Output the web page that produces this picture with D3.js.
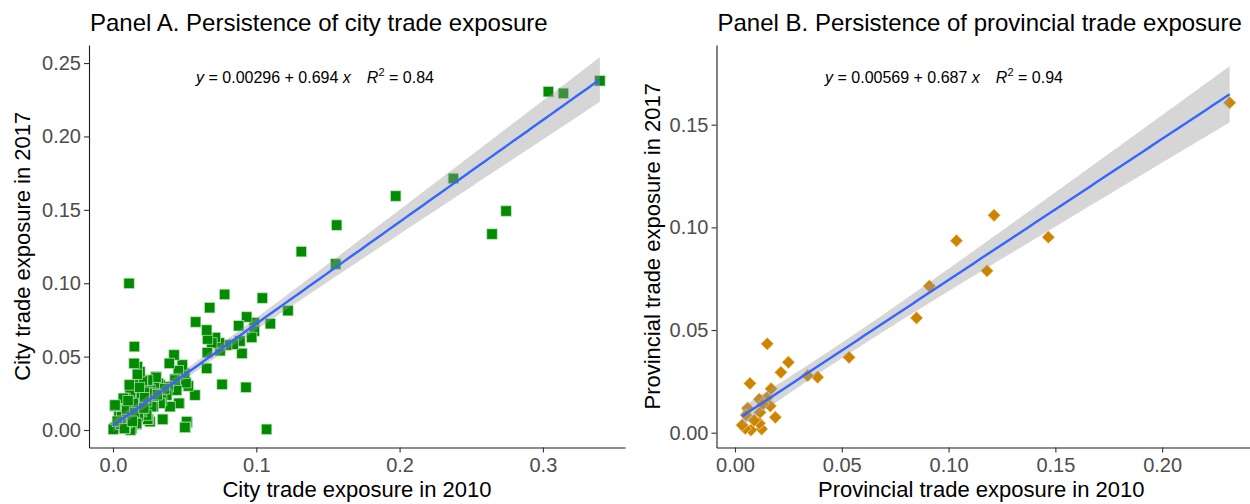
<!DOCTYPE html>
<html>
<head>
<meta charset="utf-8">
<script src="https://cdn.jsdelivr.net/npm/d3@7"></script>
<style>
  body { margin: 0; background: #ffffff; }
  text { font-family: "Liberation Sans", Arial, sans-serif; }
</style>
</head>
<body>
<div id="chart-container"></div>
<script>
const width = 1250;
const height = 504;

// Panel A: city trade exposure (2010 vs 2017)
const cityX2010 = [
  0.3398, 0.3143, 0.3038, 0.2743, 0.2645, 0.2375, 0.1973, 0.1561, 0.1554, 0.1314,
  0.1221, 0.1098, 0.1072, 0.1042, 0.0986, 0.0986, 0.0968, 0.0933, 0.0928, 0.0900,
  0.0886, 0.0877, 0.0840, 0.0793, 0.0779, 0.0761, 0.0747, 0.0743, 0.0715, 0.0690,
  0.0675, 0.0660, 0.0658, 0.0654, 0.0654, 0.0577, 0.0572, 0.0526, 0.0518, 0.0514,
  0.0509, 0.0505, 0.0502, 0.0500, 0.0484, 0.0463, 0.0460, 0.0456, 0.0444, 0.0433,
  0.0433, 0.0426, 0.0398, 0.0393, 0.0386, 0.0375, 0.0347, 0.0347, 0.0340, 0.0328,
  0.0328, 0.0328, 0.0316, 0.0300, 0.0300, 0.0281, 0.0281, 0.0270, 0.0258, 0.0258,
  0.0247, 0.0242, 0.0242, 0.0242, 0.0235, 0.0235, 0.0207, 0.0205, 0.0200, 0.0200,
  0.0188, 0.0188, 0.0177, 0.0177, 0.0170, 0.0170, 0.0170, 0.0165, 0.0165, 0.0149,
  0.0147, 0.0142, 0.0142, 0.0142, 0.0130, 0.0126, 0.0123, 0.0119, 0.0119, 0.0114,
  0.0112, 0.0100, 0.0096, 0.0084, 0.0084, 0.0084, 0.0072, 0.0072, 0.0049, 0.0044,
  0.0042, 0.0026, 0.0014, 0.0014, 0.0014, 0.0002, 0.0060, 0.0095, 0.0150, 0.0220,
  0.0290, 0.0360, 0.0055, 0.0105, 0.0185, 0.0030, 0.0080, 0.0135, 0.0215, 0.0310
];
const cityY2017 = [
  0.2379, 0.2294, 0.2305, 0.1492, 0.1335, 0.1714, 0.1594, 0.1396, 0.1131, 0.1215,
  0.0813, 0.0724, 0.0005, 0.0899, 0.0731, 0.0674, 0.0631, 0.0770, 0.0291, 0.0522,
  0.0606, 0.0710, 0.0584, 0.0579, 0.0924, 0.0311, 0.0540, 0.0593, 0.0630, 0.0593,
  0.0833, 0.0620, 0.0527, 0.0681, 0.0420, 0.0736, 0.0238, 0.0300, 0.0050, 0.0057,
  0.0322, 0.0018, 0.0018, 0.0386, 0.0443, 0.0182, 0.0182, 0.0404, 0.0272, 0.0347,
  0.0340, 0.0511, 0.0159, 0.0454, 0.0295, 0.0238, 0.0073, 0.0073, 0.0204, 0.0182,
  0.0182, 0.0307, 0.0318, 0.0363, 0.0359, 0.0193, 0.0159, 0.0159, 0.0272, 0.0057,
  0.0073, 0.0340, 0.0257, 0.0073, 0.0193, 0.0102, 0.0340, 0.0336, 0.0193, 0.0125,
  0.0136, 0.0397, 0.0091, 0.0238, 0.0431, 0.0379, 0.0232, 0.0039, 0.0045, 0.0568,
  0.0454, 0.0177, 0.0307, 0.0182, 0.0012, 0.0261, 0.0000, 0.0114, 0.0254, 0.0307,
  0.0999, 0.0050, 0.0091, 0.0216, 0.0023, 0.0012, 0.0159, 0.0216, 0.0068, 0.0114,
  0.0114, 0.0023, 0.0163, 0.0170, 0.0016, 0.0005, 0.0090, 0.0140, 0.0120, 0.0220,
  0.0250, 0.0280, 0.0040, 0.0200, 0.0290, 0.0060, 0.0010, 0.0060, 0.0150, 0.0240
];

// Panel B: provincial trade exposure (2010 vs 2017)
const provX2010 = [
  0.2316, 0.1467, 0.1213, 0.1180, 0.1037, 0.0910, 0.0850, 0.0534, 0.0387, 0.0340,
  0.0250, 0.0215, 0.0189, 0.0169, 0.0165, 0.0151, 0.0150, 0.0125, 0.0117, 0.0114,
  0.0114, 0.0075, 0.0070, 0.0059, 0.0052, 0.0048, 0.0033, 0.0090, 0.0130
];
const provY2017 = [
  0.1607, 0.0952, 0.1059, 0.0788, 0.0935, 0.0714, 0.0559, 0.0367, 0.0270, 0.0278,
  0.0343, 0.0294, 0.0075, 0.0214, 0.0130, 0.0433, 0.0170, 0.0018, 0.0099, 0.0163,
  0.0046, 0.0013, 0.0240, 0.0119, 0.0086, 0.0021, 0.0037, 0.0060, 0.0140
];

// fitted equations shown on the chart
const cityFit = {intercept: 0.00296, slope: 0.694, r2: "0.84", label: "0.00296", slopeLabel: "0.694"};
const provFit = {intercept: 0.00569, slope: 0.687, r2: "0.94", label: "0.00569", slopeLabel: "0.687"};

const cityXTicks = [0, 0.1, 0.2, 0.3];
const cityYTicks = [0, 0.05, 0.10, 0.15, 0.20, 0.25];
const provXTicks = [0, 0.05, 0.10, 0.15, 0.20];
const provYTicks = [0, 0.05, 0.10, 0.15];

const svg = d3.select("#chart-container")
    .append("svg")
    .attr("width", width)
    .attr("height", height)
    .style("background-color", "#ffffff");

// t quantile (97.5%) for the confidence band
function tCrit(df) {
    return df > 100 ? 1.98 : df > 40 ? 2.01 : 2.05;
}

function drawPanel(opt) {
    const x = d3.scaleLinear().domain(opt.xDomain).range([opt.left, opt.right]);
    const y = d3.scaleLinear().domain(opt.yDomain).range([opt.bottom, opt.top]);
    const g = svg.append("g");

    // points
    const pts = opt.xs.map((v, i) => [v, opt.ys[i]]);
    if (opt.shape === "square") {
        g.selectAll("rect.pt").data(pts).join("rect")
            .attr("class", "pt")
            .attr("x", d => x(d[0]) - 5.2)
            .attr("y", d => y(d[1]) - 5.2)
            .attr("width", 10.4)
            .attr("height", 10.4)
            .attr("fill", "#008B00")
            .attr("stroke", "#bfe3bf")
            .attr("stroke-width", 0.7);
    } else {
        const sym = d3.symbol().type(d3.symbolSquare).size(82);
        g.selectAll("path.pt").data(pts).join("path")
            .attr("class", "pt")
            .attr("d", sym)
            .attr("transform", d => `translate(${x(d[0])},${y(d[1])}) rotate(45)`)
            .attr("fill", "#CD8500")
            .attr("stroke", "#f3dcb0")
            .attr("stroke-width", 0.7);
    }

    // confidence band from the data around the stated fit
    const n = opt.xs.length;
    const xbar = d3.mean(opt.xs);
    const sxx = d3.sum(opt.xs, v => (v - xbar) ** 2);
    const sse = d3.sum(pts, d => (d[1] - (opt.fit.intercept + opt.fit.slope * d[0])) ** 2);
    const s = Math.sqrt(sse / (n - 2));
    const t = tCrit(n - 2);
    const [xmin, xmax] = d3.extent(opt.xs);
    const grid = d3.range(0, 81).map(i => xmin + (xmax - xmin) * i / 80);
    const band = grid.map(v => {
        const fitv = opt.fit.intercept + opt.fit.slope * v;
        const se = s * Math.sqrt(1 / n + (v - xbar) ** 2 / sxx);
        return {x: v, lo: fitv - t * se, hi: fitv + t * se, fit: fitv};
    });
    g.append("path")
        .datum(band)
        .attr("fill", "#999999")
        .attr("fill-opacity", 0.4)
        .attr("d", d3.area().x(d => x(d.x)).y0(d => y(d.lo)).y1(d => y(d.hi)));
    g.append("path")
        .datum(band)
        .attr("fill", "none")
        .attr("stroke", "#3366FF")
        .attr("stroke-width", 2.4)
        .attr("d", d3.line().x(d => x(d.x)).y(d => y(d.fit)));

    // axes
    const xAxis = g.append("g")
        .attr("transform", `translate(0,${opt.bottom})`)
        .call(d3.axisBottom(x).tickValues(opt.xTicks).tickFormat(d3.format(opt.xFmt)).tickSize(5).tickSizeOuter(0));
    const yAxis = g.append("g")
        .attr("transform", `translate(${opt.left},0)`)
        .call(d3.axisLeft(y).tickValues(opt.yTicks).tickFormat(d3.format(".2f")).tickSize(5).tickSizeOuter(0));
    [xAxis, yAxis].forEach(a => {
        a.select(".domain").attr("stroke", "#1a1a1a").attr("stroke-width", 1.1);
        a.selectAll(".tick line").attr("stroke", "#333333").attr("stroke-width", 1.1);
        a.selectAll(".tick text")
            .attr("fill", "#4D4D4D")
            .style("font-size", "20px")
            .style("font-family", "'Liberation Sans', Arial, sans-serif");
    });
    xAxis.selectAll(".tick text").attr("dy", "0.71em").attr("y", 10);
    yAxis.selectAll(".tick text").attr("x", -8);

    // titles
    svg.append("text")
        .attr("x", opt.left + 1)
        .attr("y", 31)
        .attr("font-size", "24px")
        .attr("fill", "#000")
        .text(opt.title);
    svg.append("text")
        .attr("x", (opt.left + Math.min(opt.right, width)) / 2 + opt.xTitleShift)
        .attr("y", 497)
        .attr("text-anchor", "middle")
        .attr("font-size", "22px")
        .attr("fill", "#000")
        .text(opt.xTitle);
    svg.append("text")
        .attr("transform", `translate(${opt.yTitleX},${(opt.top + opt.bottom) / 2}) rotate(-90)`)
        .attr("text-anchor", "middle")
        .attr("font-size", "22px")
        .attr("fill", "#000")
        .text(opt.yTitle);

    // equation label
    const eq = svg.append("text")
        .attr("x", opt.eqX)
        .attr("y", 83)
        .attr("text-anchor", "middle")
        .attr("font-size", "16px")
        .attr("fill", "#000");
    eq.append("tspan").attr("font-style", "italic").text("y");
    eq.append("tspan").text(` = ${opt.fit.label} + ${opt.fit.slopeLabel} `);
    eq.append("tspan").attr("font-style", "italic").text("x");
    eq.append("tspan").text("\u2003");
    eq.append("tspan").attr("font-style", "italic").text("R");
    eq.append("tspan").attr("font-size", "11px").attr("dy", -7).text("2");
    eq.append("tspan").attr("dy", 7).text(` = ${opt.fit.r2}`);
}

drawPanel({
    xs: cityX2010, ys: cityY2017, fit: cityFit, shape: "square",
    left: 89, right: 625, top: 45, bottom: 447.5,
    xDomain: [-0.01675, 0.3573], yDomain: [-0.01192, 0.2623],
    xTicks: cityXTicks, yTicks: cityYTicks, xFmt: ".1f",
    title: "Panel A. Persistence of city trade exposure",
    xTitle: "City trade exposure in 2010", xTitleShift: 0,
    yTitle: "City trade exposure in 2017", yTitleX: 30,
    eqX: 315
});

drawPanel({
    xs: provX2010, ys: provY2017, fit: provFit, shape: "diamond",
    left: 716.5, right: 1254, top: 45, bottom: 447.5,
    xDomain: [-0.00866, 0.2430], yDomain: [-0.0072, 0.1888],
    xTicks: provXTicks, yTicks: provYTicks, xFmt: ".2f",
    title: "Panel B. Persistence of provincial trade exposure",
    xTitle: "Provincial trade exposure in 2010", xTitleShift: -2,
    yTitle: "Provincial trade exposure in 2017", yTitleX: 660,
    eqX: 944
});
</script>
</body>
</html>
